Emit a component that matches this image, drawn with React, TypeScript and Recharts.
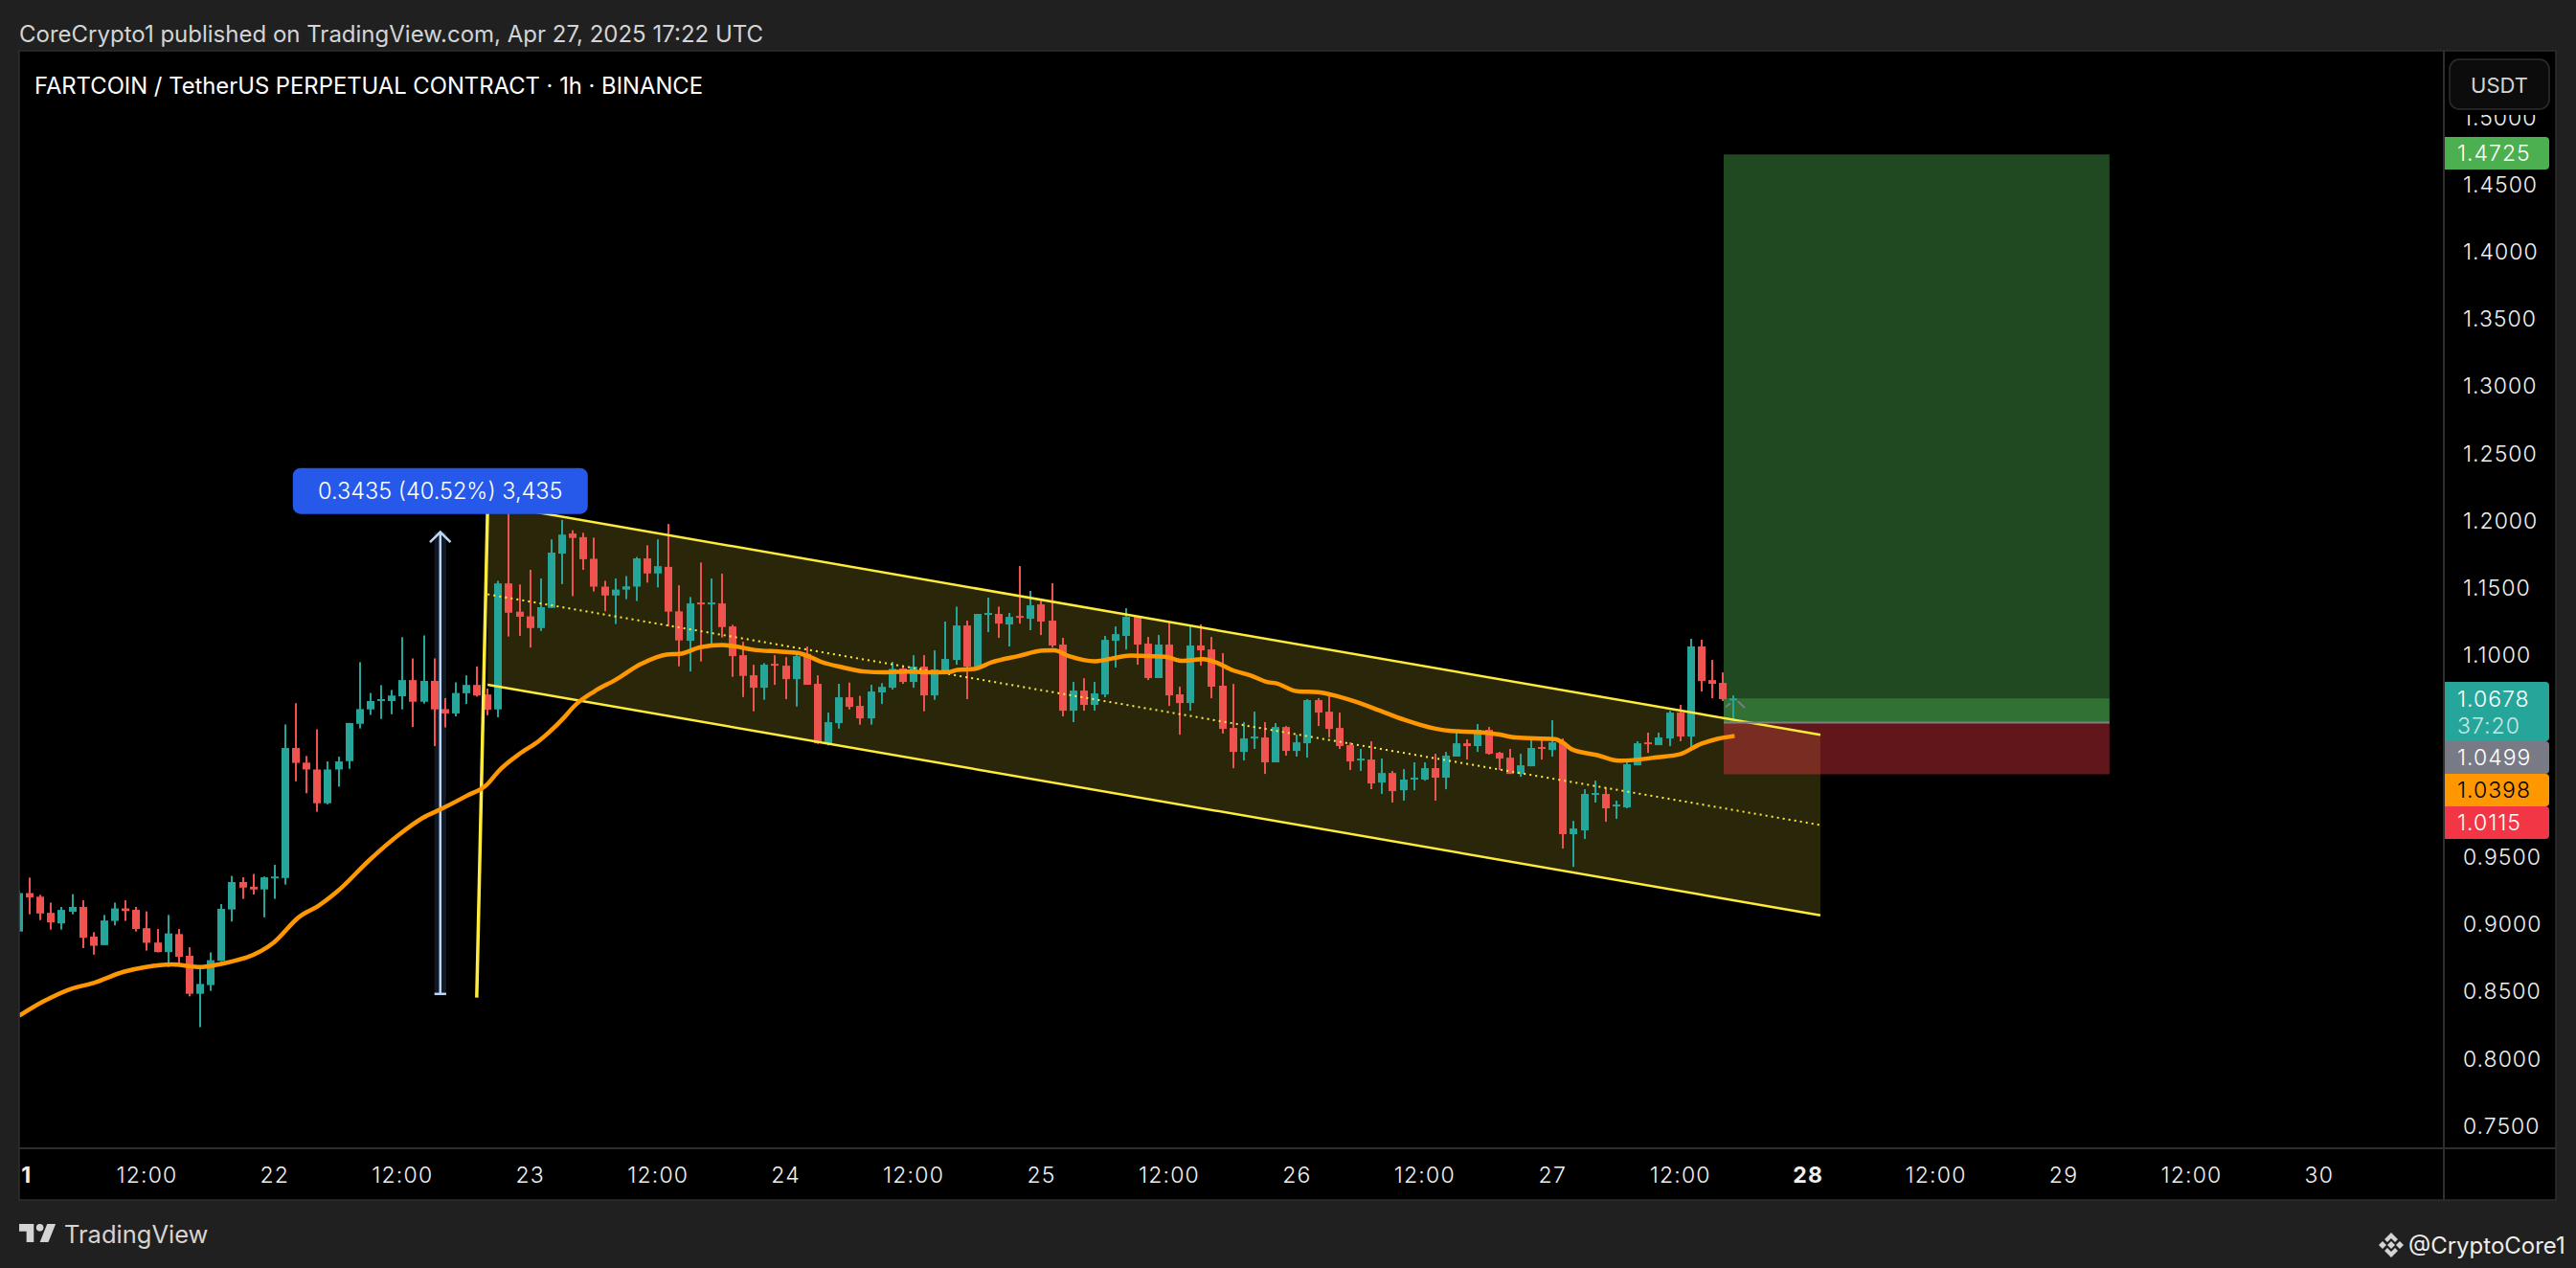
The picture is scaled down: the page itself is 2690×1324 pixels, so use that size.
import {
  Area,
  Bar,
  ComposedChart,
  Line,
  ReferenceArea,
  ReferenceDot,
  ReferenceLine,
  XAxis,
  YAxis,
} from 'recharts'

// 1h candles, index = hours since Apr 21 00:00 UTC
const opens = [
  0.8945, 0.9231, 0.9204, 0.9084, 0.9005, 0.9092, 0.9128, 0.8907, 0.8844, 0.9024,
  0.9117, 0.9106, 0.8970, 0.8863, 0.8792, 0.8926, 0.8765, 0.8482, 0.8547, 0.8727,
  0.9109, 0.9313, 0.9278, 0.9258, 0.9343, 0.9343, 1.0310, 1.0201, 1.0150, 0.9899,
  1.0150, 1.0212, 1.0490, 1.0597, 1.0662, 1.0659, 1.0695, 1.0815, 1.0654, 1.0809,
  1.0599, 1.0567, 1.0717, 1.0779, 1.0708, 1.0597, 1.1534, 1.1324, 1.1289, 1.1202,
  1.1352, 1.1755, 1.1905, 1.1878, 1.1717, 1.1510, 1.1444, 1.1488, 1.1510, 1.1720,
  1.1608, 1.1657, 1.1326, 1.1107, 1.1392, 1.1380, 1.1385, 1.1214, 1.1000, 1.0851,
  1.0758, 1.0936, 1.0922, 1.0822, 1.1010, 1.0787, 1.0345, 1.0495, 1.0687, 1.0623,
  1.0530, 1.0723, 1.0758, 1.0901, 1.0801, 1.0915, 1.0701, 1.0886, 1.0965, 1.1221,
  1.0915, 1.1300, 1.1307, 1.1228, 1.1292, 1.1271, 1.1378, 1.1257, 1.1079, 1.0587,
  1.0737, 1.0630, 1.0708, 1.1107, 1.1143, 1.1285, 1.1086, 1.0830, 1.1079, 1.0709,
  1.0644, 1.1072, 1.1043, 1.0773, 1.0459, 1.0281, 1.0381, 1.0388, 1.0203, 1.0466,
  1.0288, 1.0345, 1.0666, 1.0580, 1.0459, 1.0331, 1.0217, 1.0224, 1.0053, 1.0124,
  0.9996, 1.0075, 1.0075, 1.0160, 1.0089, 1.0246, 1.0345, 1.0324, 1.0445, 1.0274,
  1.0238, 1.0117, 1.0174, 1.0317, 1.0295, 1.0352, 0.9669, 0.9697, 0.9961, 0.9968,
  0.9875, 0.9868, 1.0181, 1.0352, 1.0331, 1.0381, 1.0573, 1.0395, 1.1065, 1.0815,
  1.0794, 1.0673,
]
const closes = [
  0.9231, 0.9199, 0.9079, 0.9013, 0.9106, 0.9128, 0.8899, 0.8839, 0.9027, 0.9117,
  0.9098, 0.8964, 0.8861, 0.8792, 0.8931, 0.8757, 0.8482, 0.8555, 0.8732, 0.9114,
  0.9313, 0.9272, 0.9258, 0.9348, 0.9354, 1.0310, 1.0199, 1.0150, 0.9899, 1.0150,
  1.0210, 1.0496, 1.0599, 1.0659, 1.0673, 1.0700, 1.0815, 1.0654, 1.0809, 1.0597,
  1.0567, 1.0719, 1.0779, 1.0700, 1.0594, 1.1534, 1.1316, 1.1286, 1.1202, 1.1357,
  1.1763, 1.1897, 1.1872, 1.1714, 1.1510, 1.1444, 1.1488, 1.1512, 1.1720, 1.1608,
  1.1662, 1.1324, 1.1110, 1.1385, 1.1380, 1.1392, 1.1209, 1.0993, 1.0846, 1.0758,
  1.0929, 1.0924, 1.0822, 1.0993, 1.0780, 1.0345, 1.0502, 1.0687, 1.0616, 1.0530,
  1.0730, 1.0765, 1.0898, 1.0801, 1.0915, 1.0701, 1.0894, 1.0972, 1.1221, 1.0915,
  1.1307, 1.1314, 1.1235, 1.1285, 1.1278, 1.1371, 1.1250, 1.1072, 1.0587, 1.0737,
  1.0630, 1.0716, 1.1114, 1.1157, 1.1285, 1.1079, 1.0830, 1.1079, 1.0701, 1.0644,
  1.1072, 1.1036, 1.0766, 1.0452, 1.0281, 1.0381, 1.0395, 1.0203, 1.0466, 1.0288,
  1.0352, 1.0666, 1.0573, 1.0452, 1.0324, 1.0210, 1.0231, 1.0046, 1.0124, 0.9989,
  1.0075, 1.0089, 1.0160, 1.0089, 1.0253, 1.0345, 1.0324, 1.0445, 1.0267, 1.0231,
  1.0117, 1.0181, 1.0310, 1.0303, 1.0352, 0.9669, 0.9711, 0.9968, 0.9975, 0.9861,
  0.9889, 1.0189, 1.0345, 1.0338, 1.0388, 1.0573, 1.0395, 1.1065, 1.0808, 1.0787,
  1.0673, 1.0678,
]
const highs = [
  0.9250, 0.9346, 0.9218, 0.9160, 0.9128, 0.9223, 0.9177, 0.8940, 0.9068, 0.9160,
  0.9177, 0.9128, 0.9095, 0.8964, 0.9068, 0.8964, 0.8828, 0.8672, 0.8790, 0.9149,
  0.9359, 0.9348, 0.9373, 0.9354, 0.9441, 1.0485, 1.0643, 1.0251, 1.0449, 1.0210,
  1.0245, 1.0496, 1.0948, 1.0719, 1.0777, 1.0741, 1.1134, 1.0976, 1.1147, 1.0976,
  1.0681, 1.0798, 1.0850, 1.0916, 1.0752, 1.1553, 1.2107, 1.1526, 1.1635, 1.1570,
  1.1861, 1.2006, 1.1929, 1.1910, 1.1875, 1.1553, 1.1570, 1.1589, 1.1730, 1.1818,
  1.1861, 1.1976, 1.1520, 1.1433, 1.1689, 1.1570, 1.1606, 1.1226, 1.1100, 1.0929,
  1.0941, 1.1000, 1.0986, 1.1029, 1.1065, 1.0851, 1.0573, 1.0787, 1.0796, 1.0697,
  1.0780, 1.0792, 1.0951, 1.0915, 1.1000, 1.1000, 1.1036, 1.1250, 1.1361, 1.1257,
  1.1307, 1.1428, 1.1361, 1.1314, 1.1663, 1.1478, 1.1406, 1.1535, 1.1129, 1.0801,
  1.0829, 1.0801, 1.1143, 1.1214, 1.1349, 1.1292, 1.1136, 1.1150, 1.1243, 1.0766,
  1.1214, 1.1229, 1.1136, 1.1015, 1.0787, 1.0502, 1.0580, 1.0502, 1.0495, 1.0473,
  1.0409, 1.0673, 1.0680, 1.0694, 1.0573, 1.0352, 1.0303, 1.0360, 1.0231, 1.0139,
  1.0153, 1.0203, 1.0203, 1.0267, 1.0281, 1.0424, 1.0374, 1.0488, 1.0466, 1.0281,
  1.0303, 1.0267, 1.0393, 1.0395, 1.0516, 1.0381, 0.9768, 1.0003, 1.0067, 1.0018,
  0.9918, 1.0217, 1.0360, 1.0424, 1.0424, 1.0587, 1.0630, 1.1122, 1.1115, 1.0965,
  1.0872, 1.0701,
]
const lows = [
  0.8945, 0.9073, 0.9030, 0.8959, 0.8959, 0.9073, 0.8822, 0.8773, 0.8844, 0.8991,
  0.9024, 0.8945, 0.8803, 0.8790, 0.8681, 0.8700, 0.8463, 0.8234, 0.8504, 0.8724,
  0.9019, 0.9188, 0.9220, 0.9051, 0.9188, 0.9294, 1.0062, 0.9973, 0.9836, 0.9891,
  1.0022, 1.0155, 1.0455, 1.0556, 1.0526, 1.0561, 1.0597, 1.0466, 1.0640, 1.0324,
  1.0463, 1.0545, 1.0638, 1.0692, 1.0553, 1.0539, 1.1139, 1.1144, 1.1057, 1.1180,
  1.1352, 1.1529, 1.1439, 1.1635, 1.1474, 1.1327, 1.1232, 1.1417, 1.1403, 1.1540,
  1.1504, 1.1214, 1.0917, 1.0879, 1.0953, 1.1081, 1.1131, 1.0839, 1.0689, 1.0583,
  1.0668, 1.0780, 1.0673, 1.0618, 1.0780, 1.0340, 1.0329, 1.0454, 1.0597, 1.0483,
  1.0483, 1.0637, 1.0744, 1.0787, 1.0758, 1.0583, 1.0668, 1.0858, 1.0929, 1.0673,
  1.0891, 1.1171, 1.1129, 1.1065, 1.1235, 1.1186, 1.1150, 1.1057, 1.0545, 1.0502,
  1.0587, 1.0587, 1.0687, 1.0908, 1.1043, 1.0929, 1.0815, 1.0830, 1.0623, 1.0409,
  1.0587, 1.0922, 1.0680, 1.0417, 1.0160, 1.0217, 1.0303, 1.0117, 1.0203, 1.0253,
  1.0246, 1.0238, 1.0473, 1.0388, 1.0303, 1.0146, 1.0139, 1.0003, 0.9968, 0.9904,
  0.9918, 0.9996, 1.0067, 0.9918, 1.0003, 1.0246, 1.0224, 1.0281, 1.0260, 1.0146,
  1.0117, 1.0096, 1.0174, 1.0224, 1.0246, 0.9562, 0.9426, 0.9633, 0.9904, 0.9761,
  0.9783, 0.9861, 1.0181, 1.0274, 1.0331, 1.0324, 1.0360, 1.0317, 1.0730, 1.0680,
  1.0659, 1.0516,
]

const emaHours = [
  0, 2.2, 4.8, 7, 9.8, 11.9, 14.3, 17.1, 18.7, 23.9, 26.3, 28.1, 29.9, 32.9, 35.7, 37.9, 39.9, 42, 44, 45, 47,
  48.8, 51.2, 52.2, 54, 56, 58.4, 60.8, 62, 64, 66, 67.3, 68.9, 71.3, 73.1, 74.1, 75.3, 77.3, 79.3, 81.3, 83.3,
  85.3, 87.3, 88.1, 89.7, 91.3, 93.8, 96.2, 97.2, 98.6, 101, 104.4, 106, 107.6, 109.2, 111.2, 112.4, 114, 115.6,
  117.3, 118, 120, 122, 124, 125.7, 127.7, 130.1, 132.9, 134.5, 137, 138.9, 140.5, 144.2, 145, 145.8, 148.2,
  150.2, 151.8, 153.8, 156, 157.8, 159.4, 161.1,
]
const emaValues = [
  0.8318, 0.8422, 0.8517, 0.8563, 0.8645, 0.8681, 0.8700, 0.8681, 0.8700, 0.8863, 0.9054, 0.9136, 0.9245, 0.9477,
  0.9667, 0.9790, 0.9866, 0.9953, 1.0043, 1.0136, 1.0267, 1.0362, 1.0539, 1.0627, 1.0730, 1.0817, 1.0935, 1.1005,
  1.1010, 1.1060, 1.1076, 1.1065, 1.1041, 1.1027, 1.1017, 1.0993, 1.0951, 1.0910, 1.0879, 1.0872, 1.0879, 1.0872,
  1.0875, 1.0891, 1.0898, 1.0946, 1.0993, 1.1034, 1.1036, 1.0993, 1.0955, 1.0998, 1.0993, 1.0989, 1.0958, 1.0970,
  1.0946, 1.0887, 1.0851, 1.0799, 1.0792, 1.0732, 1.0725, 1.0690, 1.0649, 1.0590, 1.0519, 1.0455, 1.0436, 1.0428,
  1.0412, 1.0388, 1.0376, 1.0348, 1.0300, 1.0257, 1.0215, 1.0222, 1.0241, 1.0265, 1.0336, 1.0376, 1.0400,
]

const channelHours = [44, 169.15]
const channelUpper = [1.2126, 1.0408]
const channelMiddle = [1.1453, 0.9737]
const channelLower = [1.078, 0.9066]
const anchorHours = [42.97, 44]
const anchorValues = [0.8454, 1.2126]

const rangeHour = 39.55
const rangeTop = 1.1916
const rangeBottom = 0.8481

const targetPrice = 1.4725
const lastPrice = 1.0678
const entryPrice = 1.0499
const stopPrice = 1.0115
const positionStart = 160.07
const positionEnd = 196.3

// 1.0500 and 1.0000 are hidden behind the price labels in the picture
const priceTicks = [1.5, 1.45, 1.4, 1.35, 1.3, 1.25, 1.2, 1.15, 1.1, 0.95, 0.9, 0.85, 0.8, 0.75]
const timeTicks = [0, 12, 24, 36, 48, 60, 72, 84, 96, 108, 120, 132, 144, 156, 168, 180, 192, 204, 216]
const timeLabels = [
  '21', '12:00', '22', '12:00', '23', '12:00', '24', '12:00', '25', '12:00',
  '26', '12:00', '27', '12:00', '28', '12:00', '29', '12:00', '30',
]
const boldTimeLabels = ['21', '28']

const UP = '#26a69a'
const DOWN = '#ef5350'
const YELLOW = '#ffeb3b'
const FONT = 'Inter, "Noto Sans", sans-serif'

const candles = opens.map((open, h) => ({
  h,
  open,
  close: closes[h],
  high: highs[h],
  low: lows[h],
  range: [lows[h], highs[h]],
}))
const emaRows = emaHours.map((h, i) => ({ h, ema: emaValues[i] }))
const channelRows = channelHours.map((h, i) => ({
  h,
  band: [channelLower[i], channelUpper[i]],
  upper: channelUpper[i],
  middle: channelMiddle[i],
  lower: channelLower[i],
}))
const anchorRows = anchorHours.map((h, i) => ({ h, v: anchorValues[i] }))
const stemRows = [{ h: rangeHour, v: rangeBottom }, { h: rangeHour, v: rangeTop }]
const capRows = [{ h: 39, v: rangeBottom }, { h: 40.1, v: rangeBottom }]
const headRows = [{ h: 38.58, v: 1.1841 }, { h: rangeHour, v: rangeTop }, { h: 40.51, v: 1.1841 }]
const miniLeftRows = [{ h: 160.25, v: 1.0614 }, { h: 160.7, v: 1.0643 }]
const miniRightRows = [{ h: 161.4, v: 1.0657 }, { h: 162.05, v: 1.0609 }]

// one bar per hour: the range [low, high] gives the wick, the body is placed inside it
function Candle(props: any) {
  const { x, y, width, height, payload } = props
  const cx = x + width / 2
  const perPrice = height / (payload.high - payload.low)
  const top = y + (payload.high - Math.max(payload.open, payload.close)) * perPrice
  const bodyHeight = Math.max(Math.abs(payload.open - payload.close) * perPrice, 2)
  const fill = payload.close >= payload.open ? UP : DOWN
  return (
    <g>
      <rect x={Math.round(cx - 1)} y={y} width={2} height={height} fill={fill} />
      <rect x={Math.round(cx - 4)} y={top} width={8} height={bodyHeight} fill={fill} />
    </g>
  )
}

function TimeTick(props: any) {
  const { x, y, payload, index } = props
  const label = timeLabels[index] ?? timeLabels[timeTicks.indexOf(payload.value)]
  return (
    <text
      x={x}
      y={y + 28}
      textAnchor="middle"
      fill="#f0f0f0"
      fontFamily={FONT}
      fontSize={23}
      letterSpacing={1.2}
      fontWeight={boldTimeLabels.includes(label) ? 700 : 300}
    >
      {label}
    </text>
  )
}

function RangeBadge(props: any) {
  const { cx, cy } = props
  return (
    <g>
      <rect x={cx - 154} y={cy - 24} width={308} height={48} rx={8} fill="#2659ea" />
      <text x={cx} y={cy + 8} textAnchor="middle" fill="#fff" fontFamily={FONT} fontSize={23.5} fontWeight={300}>
        0.3435 (40.52%) 3,435
      </text>
    </g>
  )
}

function PriceLabel({ y, h, fill, text, color = '#fff' }: { y: number; h: number; fill: string; text: string; color?: string }) {
  return (
    <g>
      <path d={`M2552 ${y}h106a4 4 0 0 1 4 4v${h - 8}a4 4 0 0 1 -4 4h-106z`} fill={fill} />
      <text x={2566} y={y + 25} fill={color} fontFamily={FONT} fontSize={23} letterSpacing={1} fontWeight={300}>
        {text}
      </text>
    </g>
  )
}

function Chrome() {
  return (
    <svg width={2690} height={1324} style={{ position: 'absolute', left: 0, top: 0, pointerEvents: 'none' }}>
      <rect x={0} y={0} width={20} height={1324} fill="#202020" />
      <text x={20} y={44} fill="#d4d4d4" fontFamily={FONT} fontSize={24}>
        CoreCrypto1 published on TradingView.com, Apr 27, 2025 17:22 UTC
      </text>
      <text x={36} y={98} fill="#fff" fontFamily={FONT} fontSize={23.8}>
        FARTCOIN / TetherUS PERPETUAL CONTRACT · 1h · BINANCE
      </text>

      <rect x={2553} y={54} width={115} height={66} fill="#000" />
      <rect x={2558} y={62} width={104} height={52} rx={10} fill="#0c0c0c" stroke="#2e2e2e" strokeWidth={1.5} />
      <text x={2610} y={97} textAnchor="middle" fill="#d4d4d4" fontFamily={FONT} fontSize={22}>
        USDT
      </text>

      <PriceLabel y={143} h={34} fill="#4caf50" text="1.4725" />
      <path d="M2552 712h106a4 4 0 0 1 4 4v54a4 4 0 0 1 -4 4h-106z" fill={UP} />
      <text x={2566} y={738} fill="#fff" fontFamily={FONT} fontSize={23} letterSpacing={1} fontWeight={300}>1.0678</text>
      <text x={2566} y={766} fill="#c9e6e3" fontFamily={FONT} fontSize={23} letterSpacing={1} fontWeight={300}>37:20</text>
      <PriceLabel y={774} h={34} fill="#787b86" text="1.0499" />
      <PriceLabel y={808} h={34} fill="#ff9800" text="1.0398" color="#000" />
      <PriceLabel y={842} h={34} fill="#f23645" text="1.0115" />

      <rect x={20} y={53} width={2649} height={1200} fill="none" stroke="#2e2e2e" strokeWidth={1.5} />
      <line x1={2552} y1={53} x2={2552} y2={1253} stroke="#2e2e2e" strokeWidth={2} />
      <line x1={20} y1={1199} x2={2669} y2={1199} stroke="#2e2e2e" strokeWidth={2} />

      <path
        transform="translate(17.5 1270.4) scale(1.27)"
        d="M14 6H2v6h6v9h6V6Zm12 15h-7l6-15h7l-6 15Zm-7-9a3 3 0 1 0 0-6 3 3 0 0 0 0 6Z"
        fill="#d4d4d4"
      />
      <text x={67} y={1298} fill="#d4d4d4" fontFamily={FONT} fontSize={25.5}>
        TradingView
      </text>

      <g fill="#d4d4d4">
        <path d="M2497 1287l7 7-3 3-4-4-4 4-3-3z" />
        <path d="M2497 1313l7-7-3-3-4 4-4-4-3 3z" />
        <path d="M2484 1300l4-4 4 4-4 4z" />
        <path d="M2510 1300l-4-4-4 4 4 4z" />
        <path d="M2497 1296l4 4-4 4-4-4z" />
      </g>
      <text x={2515} y={1309} fill="#ededed" fontFamily={FONT} fontSize={24}>
        @CryptoCore1
      </text>
    </svg>
  )
}

export default function App() {
  return (
    <div style={{ position: 'absolute', left: 0, top: 0, width: 2690, height: 1324, background: '#202020', overflow: 'hidden' }}>
      <div style={{ position: 'absolute', left: 20, top: 53, width: 2649, height: 1200, background: '#000' }} />
      <div style={{ position: 'absolute', left: 0, top: 0 }}>
        <ComposedChart width={2690} height={1324} data={candles} margin={{ top: 54, right: 0, bottom: 0, left: 20 }}>
          <XAxis
            xAxisId={0}
            dataKey="h"
            type="number"
            domain={[0, 227.7]}
            allowDataOverflow
            ticks={timeTicks}
            interval={0}
            axisLine={false}
            tickLine={false}
            height={125}
            tick={<TimeTick />}
          />
          <YAxis
            yAxisId={0}
            orientation="right"
            type="number"
            domain={[0.7333, 1.5488]}
            allowDataOverflow
            ticks={priceTicks}
            interval={0}
            axisLine={false}
            tickLine={false}
            tickMargin={14}
            width={138}
            tickFormatter={(v: number) => v.toFixed(4)}
            tick={{ fill: '#f0f0f0', fontSize: 23, fontFamily: FONT, fontWeight: 300, letterSpacing: 1 }}
          />

          <Area data={channelRows} dataKey="band" stroke="none" fill={YELLOW} fillOpacity={0.16} isAnimationActive={false} activeDot={false} />
          <Line data={channelRows} dataKey="upper" stroke={YELLOW} strokeWidth={2.5} dot={false} activeDot={false} isAnimationActive={false} />
          <Line data={channelRows} dataKey="lower" stroke={YELLOW} strokeWidth={2.5} dot={false} activeDot={false} isAnimationActive={false} />
          <Line data={channelRows} dataKey="middle" stroke={YELLOW} strokeWidth={2} strokeDasharray="2 4.1" dot={false} activeDot={false} isAnimationActive={false} />

          <ReferenceArea x1={positionStart} x2={positionEnd} y1={entryPrice} y2={targetPrice} fill="#4caf50" fillOpacity={0.42} stroke="none" />
          <ReferenceArea x1={positionStart} x2={positionEnd} y1={entryPrice} y2={lastPrice} fill="#4caf50" fillOpacity={0.4} stroke="none" />
          <ReferenceArea x1={positionStart} x2={positionEnd} y1={stopPrice} y2={entryPrice} fill="#f23645" fillOpacity={0.4} stroke="none" />
          <ReferenceLine segment={[{ x: positionStart, y: entryPrice }, { x: positionEnd, y: entryPrice }]} stroke="#808080" strokeWidth={2} />
          <Line data={miniLeftRows} dataKey="v" stroke="#787b86" strokeWidth={2} dot={false} activeDot={false} isAnimationActive={false} />
          <Line data={miniRightRows} dataKey="v" stroke="#787b86" strokeWidth={2} dot={false} activeDot={false} isAnimationActive={false} />

          <ReferenceArea x1={39} x2={40.1} y1={rangeBottom} y2={rangeTop} fill="#5b7fb5" fillOpacity={0.2} stroke="none" />
          <Line data={stemRows} dataKey="v" stroke="#bbd6f7" strokeWidth={2.5} dot={false} activeDot={false} isAnimationActive={false} />
          <Line data={capRows} dataKey="v" stroke="#bbd6f7" strokeWidth={2.5} dot={false} activeDot={false} isAnimationActive={false} />
          <Line data={headRows} dataKey="v" stroke="#bbd6f7" strokeWidth={2.5} dot={false} activeDot={false} isAnimationActive={false} />

          <Line data={anchorRows} dataKey="v" stroke={YELLOW} strokeWidth={3.5} dot={false} activeDot={false} isAnimationActive={false} />
          <ReferenceDot x={rangeHour} y={1.2221} r={1} shape={<RangeBadge />} />

          <Bar dataKey="range" barSize={8} shape={<Candle />} isAnimationActive={false} />
          <Line data={emaRows} dataKey="ema" type="monotone" stroke="#ff9800" strokeWidth={4.5} dot={false} activeDot={false} isAnimationActive={false} />
        </ComposedChart>
      </div>
      <Chrome />
    </div>
  )
}
